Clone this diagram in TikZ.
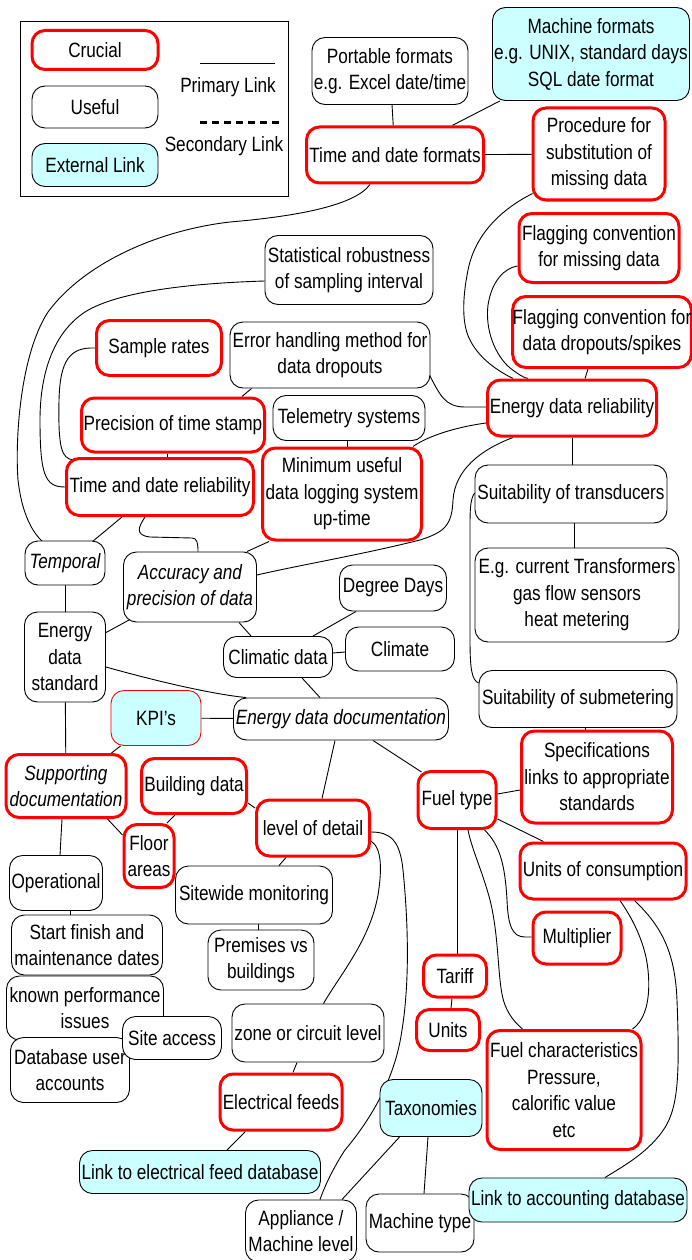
\documentclass[tikz,border=0pt]{standalone}
\usepackage{fontspec}
\setmainfont{Liberation Sans}[FakeStretch=0.83]
\usetikzlibrary{calc}
\definecolor{cyanfill}{RGB}{204,255,255}
\definecolor{boxred}{RGB}{255,0,0}
\newcommand{\mainfs}{\fontsize{20.7}{26.5}\selectfont}
\pgfdeclarelayer{bg}
\pgfsetlayers{bg,main}
\tikzset{
  box/.style={draw=black, line width=0.9pt, rounded corners=13pt, fill=white, align=center, inner sep=0pt, font=\mainfs},
  crucial/.style={box, draw=boxred, line width=3pt},
  useful/.style={box},
  extlink/.style={box, fill=cyanfill},
  kpibox/.style={box, fill=cyanfill, draw=boxred, line width=0.9pt},
  ital/.style={font=\mainfs\itshape},
  sz/.style 2 args={minimum width=#1, minimum height=#2},
  link/.style={draw=black, line width=0.9pt},
  seclink/.style={draw=black, line width=3pt, dash pattern=on 7pt off 5pt},
}
\begin{document}
\begin{tikzpicture}[x=1pt,y=-1pt]
\useasboundingbox (0,0) rectangle (691,1260);
% ---------- legend ----------
\node[draw=black, line width=0.9pt, minimum width=268, minimum height=175, inner sep=0pt] (legend) at (154,108.5) {};
\node[crucial, sz={126}{39}] (lcrucial) at (95,50) {Crucial};
\node[useful, sz={126}{42}] (luseful) at (95,107) {Useful};
\node[extlink, sz={126}{43}] (lext) at (95,165) {External Link};
\coordinate (p1) at (200,63);
\coordinate (p2) at (275,63);
\draw[link] (p1) -- (p2);
\node[font=\mainfs] (lprim) at (228,87) {Primary Link};
\coordinate (s1) at (200,123);
\coordinate (s2) at (283,123);
\draw[seclink] (s1) -- (s2);
\node[font=\mainfs] (lsec) at (224,146) {Secondary Link};
% ---------- nodes ----------
\node[useful, sz={156}{67}] (portable) at (390,71) {Portable formats\\e.g. Excel date/time};
\node[extlink, sz={197}{93}] (machine) at (591,54) {Machine formats\\e.g. UNIX, standard days\\SQL date format};
\node[crucial, sz={177}{56}] (tdformats) at (395,155) {Time and date formats};
\node[crucial, sz={132}{92}] (procedure) at (599,154) {Procedure for\\substitution of\\missing data};
\node[crucial, sz={160}{69}] (flagmiss) at (599,248) {Flagging convention\\for missing data};
\node[crucial, sz={178}{71}] (flagdrop) at (602,332) {Flagging convention for\\data dropouts/spikes};
\node[useful, sz={168}{69}] (stat) at (349,270) {Statistical robustness\\of sampling interval};
\node[crucial, sz={125}{55}] (sample) at (159,348) {Sample rates};
\node[useful, sz={200}{66}] (error) at (330,355) {Error handling method for\\data dropouts};
\node[crucial, sz={183}{54}] (precision) at (173,425) {Precision of time stamp};
\node[useful, sz={152}{45}] (telemetry) at (349,418) {Telemetry systems};
\node[crucial, sz={169}{56}] (edrel) at (572,408) {Energy data reliability};
\node[crucial, sz={187}{57}] (tdrel) at (160,487) {Time and date reliability};
\node[crucial, sz={159}{92}] (minimum) at (342,494) {Minimum useful\\data logging system\\up-time};
\node[useful, sz={192}{58}] (suittrans) at (571,494) {Suitability of transducers};
\node[useful, ital, sz={80}{44}] (temporal) at (65,563) {Temporal};
\node[useful, ital, sz={133}{70}] (accuracy) at (190,587) {Accuracy and\\precision of data};
\node[useful, sz={107}{46}] (degree) at (393,588) {Degree Days};
\node[useful, sz={204}{94}] (eg) at (577,595) {E.g. current Transformers\\gas flow sensors\\heat metering};
\node[useful, sz={81}{90}] (eds) at (65,657) {Energy\\data\\standard};
\node[useful, sz={109}{41}] (climatic) at (278,657) {Climatic data};
\node[useful, sz={109}{44}] (climate) at (400,649) {Climate};
\node[useful, sz={198}{57}] (suitsub) at (578,699) {Suitability of submetering};
\node[kpibox, sz={90}{55}] (kpi) at (156,718) {KPI's};
\node[useful, ital, sz={215}{42}] (edd) at (341,719) {Energy data documentation};
\node[crucial, ital, sz={120}{63}] (supporting) at (66,786) {Supporting\\documentation};
\node[crucial, sz={105}{55}] (building) at (194,786) {Building data};
\node[crucial, sz={151}{92}] (spec) at (597,777) {Specifications\\links to appropriate\\standards};
\node[crucial, sz={113}{56}] (lod) at (313,828) {level of detail};
\node[crucial, sz={78}{57}] (fuel) at (457,800) {Fuel type};
\node[crucial, sz={50}{63}] (floor) at (149,856) {Floor\\areas};
\node[useful, sz={93}{55}] (operational) at (56,883) {Operational};
\node[useful, sz={157}{58}] (sitewide) at (254,895) {Sitewide monitoring};
\node[crucial, sz={166}{56}] (unitscons) at (603,871) {Units of consumption};
\node[useful, sz={151}{60}] (start) at (87,945) {Start finish and\\maintenance dates};
\node[useful, sz={106}{60}] (premises) at (261,960) {Premises vs\\buildings};
\node[crucial, sz={88}{52}] (multiplier) at (577,938) {Multiplier};
\node[useful, sz={157}{64}] (known) at (85,1008) {known performance\\issues};
\node[useful, sz={119}{65}] (database) at (70,1070) {Database user\\accounts};
\node[useful, sz={99}{43}] (siteaccess) at (172,1038) {Site access};
\node[useful, sz={152}{58}] (zone) at (308,1033) {zone or circuit level};
\node[crucial, sz={63}{42}] (tariff) at (455,976) {Tariff};
\node[crucial, sz={63}{41}] (units) at (448,1030) {Units};
\node[crucial, sz={154}{119}] (fuelchar) at (564,1090) {Fuel characteristics\\Pressure,\\calorific value\\etc};
\node[crucial, sz={122}{56}] (elec) at (281,1102) {Electrical feeds};
\node[extlink, sz={102}{57}] (taxonomies) at (431,1108) {Taxonomies};
\node[extlink, sz={241}{43}] (linkelec) at (200,1172) {Link to electrical feed database};
\node[useful, sz={111}{62}] (appliance) at (301,1231) {Appliance /\\Machine level};
\node[useful, sz={108}{58}] (machinetype) at (420,1223) {Machine type};
\node[extlink, sz={218}{44}] (linkacc) at (578,1200) {Link to accounting database};
% ---------- links ----------
\begin{pgfonlayer}{bg}
\draw[link] (portable) -- (tdformats);
\draw[link] (machine) -- (tdformats);
\draw[link] (tdformats) -- (procedure);
\draw[link] ($(tdformats.south)+(-25,0)$) .. controls (355,205) and (300,216) .. (230,222)
  .. controls (160,230) and (85,262) .. (48,312)
  .. controls (20,355) and (15,440) .. (18,480)
  .. controls (22,515) and (33,533) .. ($(temporal.north west)+(18,1)$);
\draw[link] ($(stat.west)+(0,11)$) .. controls (200,283) and (120,290) .. (85,312)
  .. controls (50,335) and (40,380) .. (40,420)
  .. controls (40,475) and (45,487) .. (tdrel.west);
\draw[link] (sample.west) .. controls (70,347) and (60,360) .. (59,400)
  .. controls (58,450) and (62,458) .. ($(tdrel.north west)+(8,3)$);
\draw[link] ($(precision.south)+(-6,0)$) -- ($(tdrel.north)+(7,0)$);
\draw[link] ($(error.south west)+(22,0)$) -- ($(precision.north east)+(-24,0)$);
\draw[link] ($(error.east)+(-1,20)$) .. controls (440,395) and (445,407) .. (465,407) -- ($(edrel.west)+(0,-1)$);
\draw[link] ($(telemetry.south)+(-2,0)$) -- ($(minimum.north)+(5,0)$);
\draw[link] ($(minimum.north east)+(-10,0)$) .. controls (425,438) and (450,428) .. ($(edrel.west)+(0,15)$);
\draw[link] ($(edrel.south west)+(27,0)$) .. controls (480,450) and (455,470) .. (453,500)
  .. controls (452,525) and (445,532) .. (420,540)
  .. controls (360,555) and (300,565) .. ($(accuracy.east)+(0,-12)$);
\draw[link] ($(minimum.south west)+(8,0)$) -- ($(accuracy.north east)+(-10,0)$);
\draw[link] ($(tdrel.south)+(-15,0)$) .. controls (140,525) and (133,535) .. (150,537) -- (192,538)
  .. controls (197,538) and (198,543) .. ($(accuracy.north)+(8,0)$);
\draw[link] ($(tdrel.south west)+(57,0)$) -- ($(temporal.north east)+(-13,1)$);
\draw[link] (temporal) -- (eds);
\draw[link] ($(eds.north east)+(0,21)$) -- ($(accuracy.south west)+(7,-3)$);
\draw[link] ($(accuracy.south east)+(-18,0)$) -- ($(climatic.north west)+(28,0)$);
\draw[link] ($(climatic.north east)+(-20,0)$) -- ($(degree.south west)+(17,0)$);
\draw[link] ($(climatic.east)+(0,-4)$) -- ($(climate.west)+(0,3)$);
\draw[link] ($(climatic.south)+(24,0)$) -- ($(edd.north)+(-21,0)$);
\draw[link] ($(eds.east)+(0,10)$) .. controls (170,685) and (220,695) .. ($(edd.north west)+(13,0)$);
\draw[link] (kpi) -- (edd);
\draw[link] (eds) -- (supporting);
\draw[link] ($(kpi.south west)+(10,0)$) -- ($(supporting.north east)+(-16,0)$);
\draw[link] ($(supporting.south east)+(-20,0)$) -- ($(floor.west)+(0,-21)$);
\draw[link] ($(building.south)+(-19,0)$) -- ($(floor.north)+(18,0)$);
\draw[link] ($(building.east)+(0,17)$) -- ($(lod.west)+(0,-20)$);
\draw[link] ($(edd.south)+(-6,0)$) -- ($(lod.north)+(9,0)$);
\draw[link] ($(edd.south east)+(-76,0)$) -- ($(fuel.north west)+(5,2)$);
\draw[link] ($(fuel.east)+(0,-6)$) -- ($(spec.west)+(0,13)$);
\draw[link] ($(suitsub.south)+(7,0)$) -- ($(spec.north)+(-12,0)$);
\draw[link] ($(fuel.south east)+(0,-11)$) -- ($(unitscons.north west)+(25,0)$);
\draw[link] (fuel.south) -- (fuel.south |- tariff.north);
\draw[link] ($(fuel.south)+(11,0)$) .. controls (472,850) and (482,870) .. (490,900)
  .. controls (500,940) and (497,985) .. (505,1005)
  .. controls (510,1018) and (518,1025) .. ($(fuelchar.north west)+(37,0)$);
\draw[link] ($(fuel.south east)+(-13,0)$) .. controls (500,845) and (505,865) .. (507,900)
  .. controls (508,925) and (512,937) .. (525,937) -- ($(multiplier.west)+(0,-1)$);
\draw[link] ($(unitscons.south)+(17,0)$) .. controls (630,915) and (645,940) .. (648,970)
  .. controls (651,1000) and (645,1020) .. ($(fuelchar.north east)+(-10,0)$);
\draw[link] ($(unitscons.south east)+(-53,0)$) .. controls (660,925) and (675,950) .. (677,1000)
  .. controls (680,1080) and (678,1110) .. (662,1132)
  .. controls (645,1155) and (620,1168) .. ($(linkacc.north)+(27,0)$);
\draw[link] ($(tariff.south)+(-3,0)$) -- ($(units.north)+(3,0)$);
\draw[link] ($(suittrans.south)+(3,0)$) -- ($(eg.north)+(-3,0)$);
\draw[link] (edrel.south) -- (edrel.south |- suittrans.north);
\draw[link] ($(suittrans.west)+(0,-1)$) .. controls (470,500) and (470,510) .. (470,530) -- (470,640)
  .. controls (470,670) and (472,680) .. ($(suitsub.west)+(0,-16)$);
\draw[link] ($(flagmiss.west)+(0,18)$) .. controls (505,268) and (492,280) .. (488,305)
  .. controls (485,330) and (495,355) .. (510,368)
  .. controls (518,374) and (524,378) .. ($(edrel.north west)+(42,0)$);
\draw[link] ($(procedure.south west)+(1,-8)$) .. controls (500,210) and (475,235) .. (468,270)
  .. controls (462,300) and (462,325) .. (470,340)
  .. controls (480,360) and (500,372) .. ($(edrel.north west)+(27,0)$);
\draw[link] ($(flagdrop.south)+(-14,0)$) -- ($(edrel.north)+(13,0)$);
\draw[link] ($(lod.south)+(-27,0)$) -- ($(sitewide.north)+(25,0)$);
\draw[link] ($(sitewide.south)+(4,0)$) -- ($(premises.north)+(-3,0)$);
\draw[link] ($(lod.east)+(0,13)$) .. controls (382,848) and (382,870) .. (378,895)
  .. controls (370,940) and (340,975) .. ($(zone.north east)+(-61,0)$);
\draw[link] ($(lod.east)+(0,4)$) .. controls (390,832) and (400,840) .. (403,870)
  .. controls (408,920) and (410,980) .. (402,1030)
  .. controls (395,1080) and (370,1120) .. (345,1150)
  .. controls (335,1165) and (325,1185) .. ($(appliance.north)+(19,0)$);
\draw[link] ($(zone.south)+(-11,0)$) -- ($(elec.north)+(12,0)$);
\draw[link] ($(elec.south west)+(27,0)$) -- ($(linkelec.north)+(27,0)$);
\draw[link] ($(taxonomies.south west)+(20,0)$) -- ($(appliance.north east)+(-15,0)$);
\draw[link] ($(taxonomies.south)+(-3,0)$) -- ($(machinetype.north)+(4,0)$);
\draw[link] ($(operational.south)+(14,0)$) -- ($(start.north)+(-17,0)$);
\draw[link] ($(supporting.south)+(-4,0)$) -- ($(operational.north)+(4,0)$);
\end{pgfonlayer}
\end{tikzpicture}
\end{document}
